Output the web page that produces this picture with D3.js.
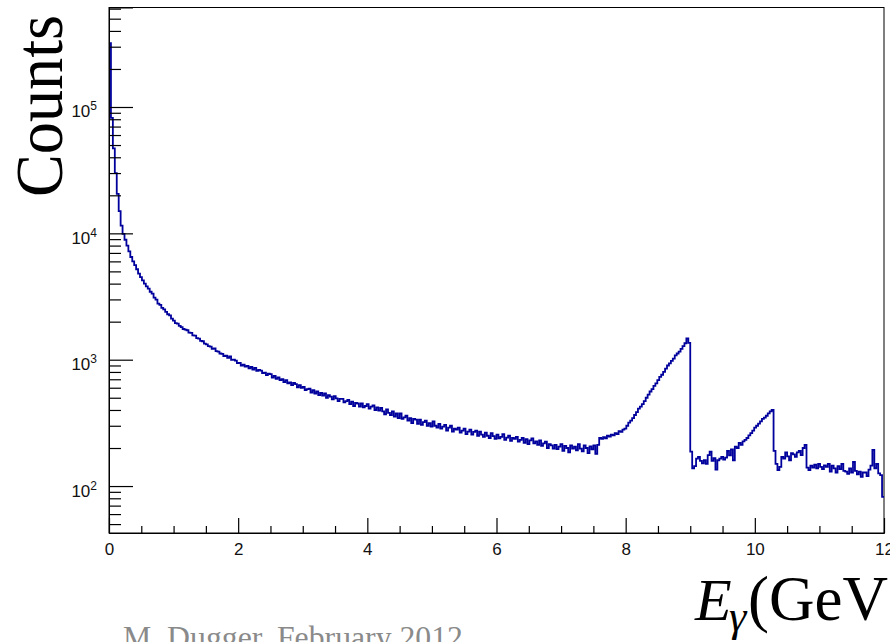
<!DOCTYPE html>
<html>
<head>
<meta charset="utf-8">
<script src="https://cdn.jsdelivr.net/npm/d3@7"></script>
<style>
html,body{margin:0;padding:0;background:#fff;}
svg{display:block;}
</style>
</head>
<body>
<svg id="chart" width="890" height="642"></svg>
<script>
// ---- data ----
const binWidth = 0.03;           // GeV per bin, 0..12 GeV
const xMajorTicks = [0, 2, 4, 6, 8, 10, 12];
const xTickLabels = ["0", "2", "4", "6", "8", "10", "12"];
const yMajorTicks = [100, 1000, 10000, 100000];
const yTickExponents = ["2", "3", "4", "5"];
const counts = [
  320000, 82000, 47000, 30000, 20500, 15000, 11500, 9900, 8900, 8000,
  7200, 6500, 6000, 5600, 5200, 4800, 4500, 4250, 4000, 3800,
  3650, 3450, 3330, 3100, 2990, 2780, 2720, 2570, 2500, 2390,
  2290, 2240, 2110, 2040, 1950, 1930, 1850, 1810, 1750, 1730,
  1710, 1640, 1630, 1560, 1550, 1480, 1470, 1410, 1400, 1340,
  1320, 1280, 1270, 1220, 1230, 1170, 1160, 1120, 1110, 1070,
  1075, 1035, 1060, 995, 1000, 985, 940, 945, 900, 915,
  880, 895, 855, 875, 835, 860, 815, 830, 820, 785,
  790, 755, 775, 770, 720, 745, 705, 725, 690, 700,
  665, 690, 650, 660, 630, 655, 640, 605, 630, 600,
  610, 575, 585, 590, 550, 575, 540, 560, 525, 545,
  520, 540, 500, 525, 510, 485, 515, 495, 470, 490,
  490, 460, 470, 480, 445, 465, 430, 455, 450, 425,
  450, 420, 430, 445, 410, 425, 435, 400, 420, 395,
  415, 390, 370, 405, 380, 365, 390, 355, 375, 345,
  375, 340, 350, 360, 330, 345, 315, 340, 335, 310,
  335, 305, 320, 330, 300, 315, 295, 325, 300, 290,
  310, 285, 295, 305, 275, 290, 300, 270, 285, 280,
  290, 265, 275, 285, 258, 270, 280, 255, 268, 275,
  250, 270, 255, 245, 265, 250, 240, 262, 248, 236,
  255, 238, 245, 258, 232, 242, 250, 228, 240, 236,
  245, 225, 232, 240, 220, 235, 215, 230, 238, 218,
  226, 212, 230, 208, 218, 225, 200, 215, 210, 198,
  212, 196, 205, 215, 190, 208, 200, 185, 210, 198,
  205, 192, 215, 198, 188, 210, 200, 182, 206, 195,
  210, 180, 212, 240, 236, 244, 238, 250, 246, 255,
  252, 262, 258, 272, 268, 280, 285, 300, 318, 330,
  345, 365, 385, 410, 425, 445, 470, 500, 530, 560,
  585, 620, 650, 690, 730, 760, 800, 850, 900, 935,
  980, 1020, 1080, 1120, 1160, 1220, 1280, 1350, 1475, 1360,
  187, 138, 144, 165, 170, 158, 151, 160, 150, 176,
  187, 158, 166, 135, 160, 165, 170, 162, 168, 190,
  175, 195, 160, 205, 200, 220, 212, 226, 232, 240,
  252, 262, 275, 290, 300, 312, 325, 340, 348, 360,
  376, 390, 400, 190, 150, 134, 142, 170, 165, 185,
  172, 160, 182, 178, 170, 185, 190, 176, 200, 212,
  140, 134, 145, 140, 148, 138, 150, 142, 136, 146,
  142, 150, 130, 145, 138, 128, 144, 136, 150, 132,
  130, 125, 138, 128, 155, 132, 124, 130, 118, 128,
  128, 120, 135, 145, 193, 138, 150, 126, 122, 82
];
const yLabel = "Counts";
const credit = "M. Dugger, February 2012";

// ---- layout ----
const L = 109, R = 884, T = 7.5, B = 533;
const svg = d3.select("#chart");

const x = d3.scaleLinear().domain([0, 12]).range([L, R]);
const y = d3.scaleLog().domain([42.5, 613000]).range([B, T]);

// frame
svg.append("rect").attr("x", L).attr("y", T).attr("width", R - L).attr("height", B - T)
  .attr("fill", "none").attr("stroke", "#000").attr("stroke-width", 1);

// histogram step line
const edges = counts.map((c, i) => ({e: i * binWidth, c: c}));
edges.push({e: counts.length * binWidth, c: counts[counts.length - 1]});
const line = d3.line().x(d => x(d.e)).y(d => y(d.c)).curve(d3.curveStepAfter);
svg.append("path").datum(edges).attr("d", line)
  .attr("fill", "none").attr("stroke", "#00009c").attr("stroke-width", 1.8);

const tickFont = "'Liberation Sans', Arial, sans-serif";

// x axis - minor ticks
const xMinor = d3.range(0, 12.001, 0.5).filter(v => Math.abs(v / 2 - Math.round(v / 2)) > 1e-6);
const gxm = svg.append("g").attr("transform", `translate(0,${B})`)
  .call(d3.axisBottom(x).tickValues(xMinor).tickSize(-7).tickFormat(""));
gxm.select(".domain").remove();
// x axis - major ticks
const gx = svg.append("g").attr("transform", `translate(0,${B})`)
  .call(d3.axisBottom(x).tickValues(xMajorTicks).tickSize(-15).tickPadding(10)
    .tickFormat((d, i) => xTickLabels[i]));
gx.select(".domain").attr("stroke", "#000");
gx.selectAll("text").attr("font-family", tickFont).attr("font-size", 17).attr("fill", "#111");

// y axis - minor ticks
const yMinor = [];
[10, 100, 1000, 10000, 100000].forEach(dec => {
  for (let k = 2; k <= 9; k++) {
    const v = k * dec;
    if (v >= 42.5 && v <= 613000) yMinor.push(v);
  }
});
const gym = svg.append("g").attr("transform", `translate(${L},0)`)
  .call(d3.axisLeft(y).tickValues(yMinor).tickSize(-12).tickFormat(""));
gym.select(".domain").remove();
// y axis - major ticks
const gy = svg.append("g").attr("transform", `translate(${L},0)`)
  .call(d3.axisLeft(y).tickValues(yMajorTicks).tickSize(-24).tickPadding(12).tickFormat(() => ""));
gy.select(".domain").attr("stroke", "#000");
gy.selectAll(".tick text").each(function(d, i) {
  const t = d3.select(this);
  t.attr("dy", null).attr("y", 10).attr("font-family", tickFont).attr("font-size", 17).attr("fill", "#111");
  t.text(null);
  t.append("tspan").text("10");
  t.append("tspan").attr("font-size", 12).attr("dy", -7).text(yTickExponents[i]);
});
svg.selectAll(".tick line").attr("stroke", "#000").attr("stroke-width", 1.2);

// y title
const serif = "'Liberation Serif', 'Times New Roman', serif";
svg.append("text")
  .attr("transform", "translate(62,106) rotate(-90)")
  .attr("text-anchor", "middle")
  .attr("font-family", serif)
  .attr("font-size", 68)
  .attr("textLength", 182).attr("lengthAdjust", "spacingAndGlyphs")
  .attr("fill", "#000")
  .text(yLabel);

// x title: E_gamma(GeV)
svg.append("text").attr("x", 695).attr("y", 620).attr("font-family", serif)
  .attr("font-size", 60).attr("font-style", "italic").attr("fill", "#000").text("E");
svg.append("text").attr("x", 729).attr("y", 631).attr("font-family", serif)
  .attr("font-size", 44).attr("font-style", "italic").attr("fill", "#000").text("γ");
svg.append("text").attr("x", 748).attr("y", 620).attr("font-family", serif)
  .attr("font-size", 63).attr("fill", "#000").text("(GeV)");

// credit
svg.append("text").attr("x", 123).attr("y", 648).attr("font-family", serif)
  .attr("font-size", 31).attr("fill", "#8a8a8a")
  .attr("textLength", 340).attr("lengthAdjust", "spacingAndGlyphs")
  .text(credit);
</script>
</body>
</html>
